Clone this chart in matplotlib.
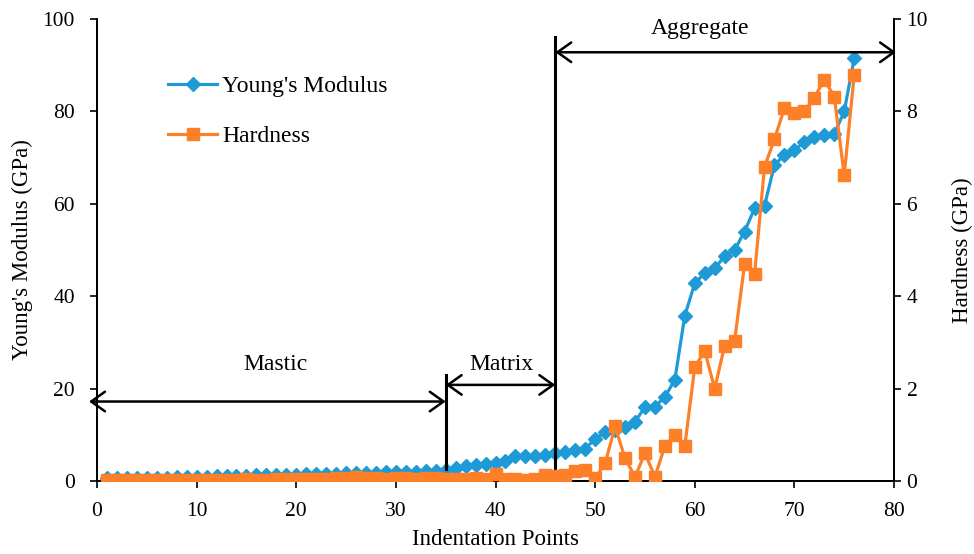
import matplotlib
matplotlib.use("Agg")
import matplotlib.pyplot as plt
from matplotlib.lines import Line2D

# Indentation results along the test line
points = list(range(1, 77))
modulus_gpa = [
    0.6, 0.55, 0.6, 0.65, 0.7, 0.75, 0.7, 0.8, 0.85, 0.9,
    0.95, 1.0, 1.0, 1.05, 1.1, 1.2, 1.25, 1.3, 1.35, 1.4,
    1.5, 1.55, 1.6, 1.6, 1.7, 1.7, 1.75, 1.8, 1.85, 1.9,
    1.95, 2.0, 2.1, 2.2, 2.3,
    2.9, 3.2, 3.4, 3.6, 3.8, 4.3, 5.3, 5.4, 5.5, 5.7, 6.0,
    6.3, 6.6, 7.0, 9.1, 10.5, 11.0, 11.6, 12.8, 16.0, 16.1, 18.2, 21.9,
    35.8, 42.8, 45.0, 46.0, 48.7, 50.0, 54.0, 59.0, 59.6, 68.4, 70.6, 71.6,
    73.4, 74.5, 74.9, 75.1, 80.0, 91.5,
]
hardness_gpa = [
    0.02, 0.02, 0.03, 0.02, 0.03, 0.02, 0.03, 0.03, 0.02, 0.03,
    0.03, 0.02, 0.03, 0.03, 0.04, 0.03, 0.03, 0.04, 0.05, 0.05,
    0.05, 0.04, 0.05, 0.06, 0.07, 0.08, 0.07, 0.06, 0.05, 0.06,
    0.06, 0.05, 0.06, 0.07, 0.05,
    0.05, 0.04, 0.06, 0.05, 0.16, 0.05, 0.04, 0.02, 0.05, 0.12, 0.1,
    0.13, 0.22, 0.24, 0.06,
    0.38, 1.18, 0.49, 0.09, 0.6, 0.09, 0.76, 1.0, 0.76, 2.47, 2.81, 2.0,
    2.93, 3.04,
    4.7, 4.47, 6.8, 7.4, 8.07, 7.96, 8.0, 8.3, 8.69, 8.32, 6.62, 8.79,
]

x_ticks = [0, 10, 20, 30, 40, 50, 60, 70, 80]
left_ticks = [0, 20, 40, 60, 80, 100]
right_ticks = [0, 2, 4, 6, 8, 10]

# Phase boundaries (indentation point index)
mastic_end = 35
matrix_end = 46

BLUE = "#1E9BD7"
ORANGE = "#FD7F28"

plt.rcParams["font.family"] = ["Liberation Serif", "DejaVu Serif"]
plt.rcParams["font.size"] = 15

TICK_FS = 15.5
LABEL_FS = 16.5
TEXT_FS = 17

fig = plt.figure(figsize=(9.74, 5.54), dpi=100)
ax = fig.add_axes([0.0996, 0.1318, 0.8183, 0.8339])
ax2 = ax.twinx()

ax.plot(points, modulus_gpa, color=BLUE, lw=2.3, marker="D", ms=7,
        label="Young's Modulus", zorder=3)
ax2.plot(points, hardness_gpa, color=ORANGE, lw=2.3, marker="s", ms=8.5,
         label="Hardness", zorder=3)

ax.set_xlim(0, 80)
ax.set_ylim(0, 100)
ax2.set_ylim(0, 10)
ax.set_xticks(x_ticks)
ax.set_yticks(left_ticks)
ax2.set_yticks(right_ticks)

for a in (ax, ax2):
    a.spines["top"].set_visible(False)
    for s in a.spines.values():
        s.set_linewidth(1.3)
    a.tick_params(direction="out", length=5, width=1.2, labelsize=TICK_FS)
ax.tick_params(axis="x", pad=10)
ax.tick_params(axis="y", pad=11)
ax2.tick_params(axis="y", pad=4)

ax.set_xlabel("Indentation Points", fontsize=LABEL_FS)
ax.set_ylabel("Young's Modulus (GPa)", fontsize=LABEL_FS)
ax2.set_ylabel("Hardness (GPa)", fontsize=LABEL_FS, rotation=90)
ax.xaxis.set_label_coords(0.5, -0.104)
ax.yaxis.set_label_coords(-0.080, 0.5)
ax2.yaxis.set_label_coords(1.073, 0.5)

# Phase boundary markers and double-headed arrows
arrow_kw = dict(arrowstyle="<->,head_length=0.45,head_width=0.32",
                color="black", lw=1.8, mutation_scale=22,
                shrinkA=0, shrinkB=0)
ax.plot([mastic_end, mastic_end], [2.7, 23.0], color="black", lw=2.2,
        zorder=4, clip_on=False)
ax.plot([matrix_end, matrix_end], [2.8, 96.0], color="black", lw=2.2,
        zorder=4, clip_on=False)

ax.annotate("", xy=(-0.8, 17.2), xytext=(mastic_end, 17.2),
            arrowprops=arrow_kw, annotation_clip=False)
ax.annotate("", xy=(mastic_end, 20.8), xytext=(matrix_end, 20.8),
            arrowprops=arrow_kw, annotation_clip=False)
ax.annotate("", xy=(matrix_end, 92.8), xytext=(80.2, 92.8),
            arrowprops=arrow_kw, annotation_clip=False)

ax.text(17.9, 25.2, "Mastic", ha="center", va="center", fontsize=TEXT_FS)
ax.text(40.6, 25.3, "Matrix", ha="center", va="center", fontsize=TEXT_FS)
ax.text(60.5, 98.0, "Aggregate", ha="center", va="center", fontsize=TEXT_FS)

handles = [
    Line2D([], [], color=BLUE, lw=2.3, marker="D", ms=7),
    Line2D([], [], color=ORANGE, lw=2.3, marker="s", ms=8.5),
]
leg = ax2.legend(handles, ["Young's Modulus", "Hardness"],
                 loc="upper left", bbox_to_anchor=(0.1625, 0.88),
                 bbox_transform=fig.transFigure, frameon=False,
                 fontsize=TEXT_FS, labelspacing=1.2, handlelength=2.1,
                 handletextpad=0.2, borderaxespad=0)

fig.savefig("out.png", dpi=100)
